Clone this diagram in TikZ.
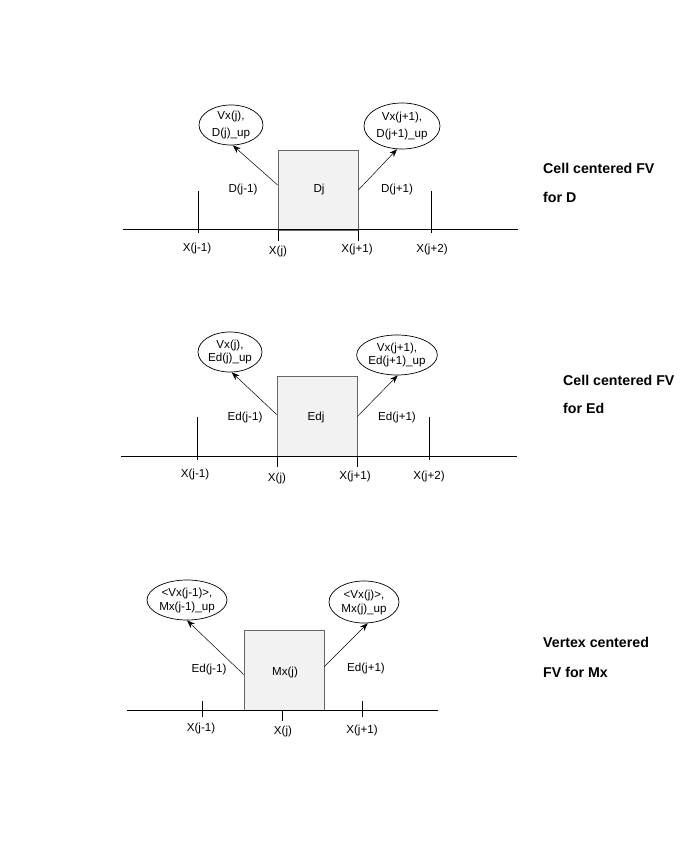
\documentclass[tikz,border=0pt]{standalone}
\usepackage{fontspec}
\setmainfont{Liberation Sans}
\usetikzlibrary{shapes.geometric,arrows.meta}
\begin{document}
\begin{tikzpicture}[x=1pt,y=-1pt,
  lbl/.style={inner sep=0pt,font=\fontsize{11.6}{13}\selectfont},
  ttl/.style={inner sep=0pt,anchor=west,font=\fontsize{14.2}{16}\bfseries\selectfont},
  cellbox/.style={draw=black!60,fill=black!5,line width=0.8pt,minimum width=80pt,minimum height=80pt,inner sep=0pt},
  ell/.style={draw,ellipse,line width=0.7pt,inner sep=0pt,align=center},
  axis/.style={line width=1pt},
  tick/.style={line width=0.9pt},
  conn/.style={line width=0.5pt,-{Stealth[length=8pt,width=6pt]}}]
\useasboundingbox (0,0) rectangle (699,858);
% ---------- Section 1 ----------
\coordinate (a1l) at (123,230); \coordinate (a1r) at (518,230);
\node[cellbox] (b1) at (318,190) {};
\draw[axis] (a1l) -- (a1r);
\coordinate (t1a) at (198,191); \coordinate (t1ab) at (198,233);
\coordinate (t1b) at (278,230); \coordinate (t1bb) at (278,241);
\coordinate (t1c) at (358,230); \coordinate (t1cb) at (358,241);
\coordinate (t1d) at (431,191); \coordinate (t1db) at (431,233);
\draw[tick] (t1a) -- (t1ab); \draw[tick] (t1b) -- (t1bb);
\draw[tick] (t1c) -- (t1cb); \draw[tick] (t1d) -- (t1db);
\node[lbl] (l1a) at (197,249) {X(j-1)};
\node[lbl] (l1b) at (278,252) {X(j)};
\node[lbl] (l1c) at (357,250) {X(j+1)};
\node[lbl] (l1d) at (432,250) {X(j+2)};
\node[lbl] (d1a) at (243,190) {D(j-1)};
\node[lbl] (d1b) at (319,190) {Dj};
\node[lbl] (d1c) at (397,190) {D(j+1)};
\node[ell,minimum width=64pt,minimum height=40pt,font=\fontsize{11.6}{16.5}\selectfont] (e1a) at (231,125) {Vx(j),\\D(j)\_up};
\node[ell,minimum width=76pt,minimum height=46pt,font=\fontsize{11.6}{16.5}\selectfont] (e1b) at (402,126) {Vx(j+1),\\D(j+1)\_up};
\draw[conn] ([yshift=5pt]b1.west) -- (e1a.275);
\draw[conn] (b1.east) -- (e1b.258);
\node[ttl] (h1a) at (543,168) {Cell centered FV};
\node[ttl] (h1b) at (543,197) {for D};
% ---------- Section 2 ----------
\coordinate (a2l) at (121,456); \coordinate (a2r) at (517,456);
\node[cellbox] (b2) at (317,416.5) {};
\draw[axis] (a2l) -- (a2r);
\coordinate (t2a) at (197,417); \coordinate (t2ab) at (197,460);
\coordinate (t2b) at (277,456); \coordinate (t2bb) at (277,467);
\coordinate (t2c) at (357,456); \coordinate (t2cb) at (357,467);
\coordinate (t2d) at (429,417); \coordinate (t2db) at (429,460);
\draw[tick] (t2a) -- (t2ab); \draw[tick] (t2b) -- (t2bb);
\draw[tick] (t2c) -- (t2cb); \draw[tick] (t2d) -- (t2db);
\node[lbl] (l2a) at (195,474) {X(j-1)};
\node[lbl] (l2b) at (277,478) {X(j)};
\node[lbl] (l2c) at (355,476) {X(j+1)};
\node[lbl] (l2d) at (429,476) {X(j+2)};
\node[lbl] (d2a) at (245,417) {Ed(j-1)};
\node[lbl] (d2b) at (316,417) {Edj};
\node[lbl] (d2c) at (397,417) {Ed(j+1)};
\node[ell,minimum width=64pt,minimum height=40pt,font=\fontsize{11.6}{13.5}\selectfont] (e2a) at (230,352) {Vx(j),\\Ed(j)\_up};
\node[ell,minimum width=70pt,minimum height=40pt,font=\fontsize{11.6}{13.5}\selectfont] (e2b) at (397,355) {Vx(j+1),\\Ed(j+1)\_up};
\draw[conn] ([yshift=2pt]b2.west) -- (e2a.275);
\draw[conn] (b2.east) -- (e2b.272);
\node[ttl] (h2a) at (563,380) {Cell centered FV};
\node[ttl] (h2b) at (563,408) {for Ed};
% ---------- Section 3 ----------
\coordinate (a3l) at (127,710); \coordinate (a3r) at (438,710);
\node[cellbox] (b3) at (284,670.5) {};
\draw[axis] (a3l) -- (a3r);
\coordinate (t3a) at (202,701); \coordinate (t3ab) at (202,717);
\coordinate (t3b) at (282,710); \coordinate (t3bb) at (282,721);
\coordinate (t3c) at (362,701); \coordinate (t3cb) at (362,717);
\draw[tick] (t3a) -- (t3ab); \draw[tick] (t3b) -- (t3bb);
\draw[tick] (t3c) -- (t3cb);
\node[lbl] (l3a) at (201,728) {X(j-1)};
\node[lbl] (l3b) at (283,731) {X(j)};
\node[lbl] (l3c) at (362,730) {X(j+1)};
\node[lbl] (d3a) at (209,669) {Ed(j-1)};
\node[lbl] (d3b) at (285,672) {Mx(j)};
\node[lbl] (d3c) at (366,668) {Ed(j+1)};
\node[ell,minimum width=80pt,minimum height=40pt,font=\fontsize{11.6}{14}\selectfont] (e3a) at (187,600) {<Vx(j-1)>,\\Mx(j-1)\_up};
\node[ell,minimum width=70pt,minimum height=42pt,font=\fontsize{11.6}{14}\selectfont] (e3b) at (364,602) {<Vx(j)>,\\Mx(j)\_up};
\draw[conn] ([yshift=-4pt]b3.west) -- (e3a.270);
\draw[conn] ([yshift=4pt]b3.east) -- (e3b.280);
\node[ttl] (h3a) at (543,642) {Vertex centered};
\node[ttl] (h3b) at (543,672) {FV for Mx};
\end{tikzpicture}
\end{document}
